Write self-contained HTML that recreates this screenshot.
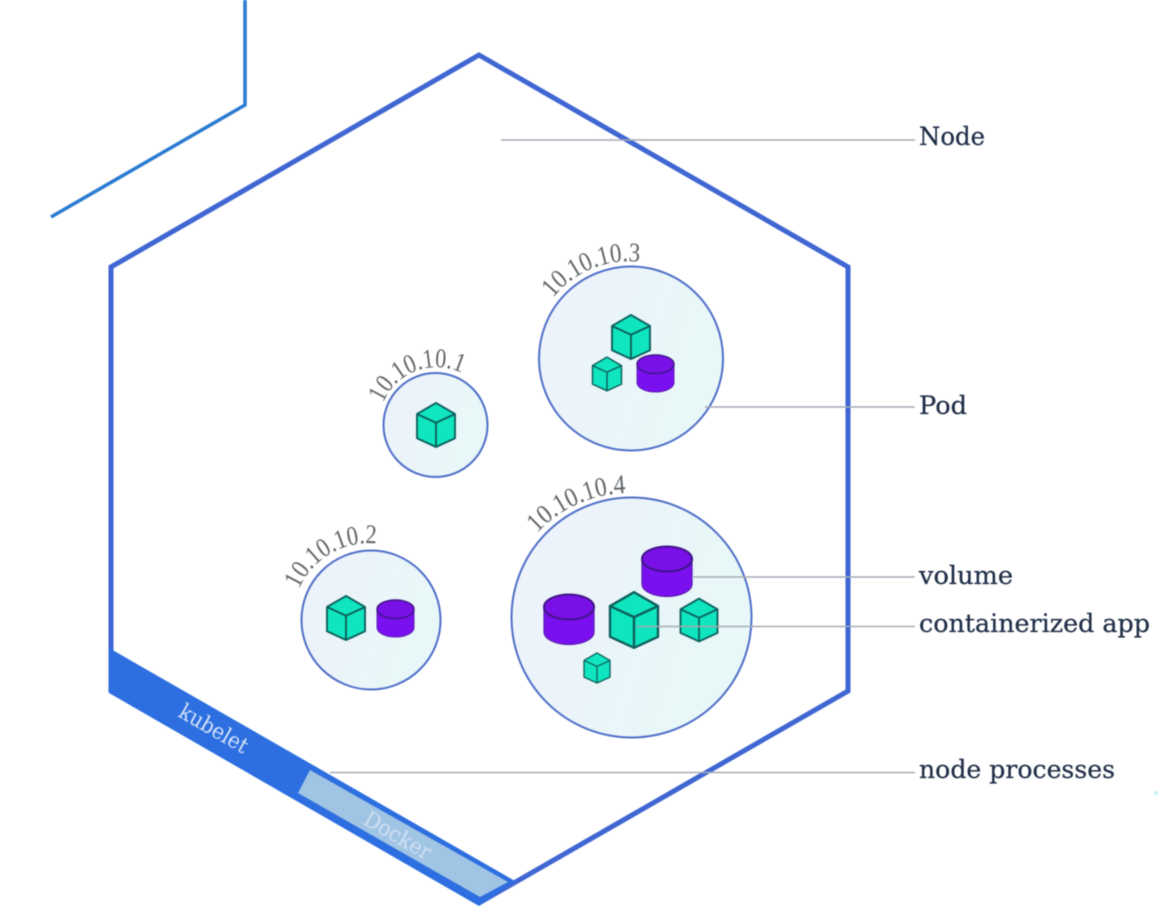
<!DOCTYPE html>
<html>
<head>
<meta charset="utf-8">
<style>
html,body{margin:0;padding:0;background:#fff;width:1169px;height:915px;overflow:hidden}
svg{display:block;filter:blur(0.5px)}
.lbl{font-family:"DejaVu Serif","Liberation Serif",serif;font-size:25px;fill:#1f2d46;stroke:#1f2d46;stroke-width:0.25px}
.ip{font-family:"Liberation Serif",serif;font-size:27px;fill:#5f6468}
</style>
</head>
<body>
<svg width="1169" height="915" viewBox="0 0 1169 915" xmlns="http://www.w3.org/2000/svg">
<defs>
<linearGradient id="pg" x1="0" y1="0" x2="1" y2="0.3">
<stop offset="0" stop-color="#eef2fb"/><stop offset="1" stop-color="#e8f8f8"/>
</linearGradient>
<g id="cube" stroke="#0d5f5c" stroke-width="0.1" stroke-linejoin="round">
<polygon points="0,-1.16 1,-0.58 1,0.7 0,1.16 -1,0.7 -1,-0.58" fill="#0fe6bf"/>
<polyline points="-1,-0.58 0,-0.12 1,-0.58" fill="none"/>
<line x1="0" y1="-0.12" x2="0" y2="1.16"/>
</g>
<g id="cyl">
<path d="M-1,-0.5 V0.5 A1,0.5 0 0 0 1,0.5 V-0.5 Z" fill="#7a10f0" stroke="#5a1fb0" stroke-width="0.05"/>
<ellipse cx="0" cy="-0.5" rx="1" ry="0.5" fill="#7a10e8" stroke="#3f1588" stroke-width="0.08"/>
</g>
<path id="a1" d="M383,403 A58,58 0 0 1 462,373"/>
<path id="a2" d="M299,589 A76,76 0 0 1 380,544"/>
<path id="a3" d="M553,298 A97,97 0 0 1 641,262"/>
<path id="a4" d="M537,533 A126,126 0 0 1 627,493"/>
</defs>

<polyline points="245,0 245,105 51,217" fill="none" stroke="#2a7bd0" stroke-width="3.5"/>
<polygon points="479,55 848,267 848,691 479,903 111,691 111,267" fill="#fff" stroke="#3f66d2" stroke-width="5"/>

<polygon points="109,648 515,881 479,906 109,693" fill="#2d6fe0"/>
<polygon points="310,770 298,793 480,897 508,882" fill="#a0c4e4"/>
<text transform="translate(210,735) rotate(30)" text-anchor="middle" font-family="DejaVu Serif, serif" font-size="22" fill="#d3e3fa" textLength="76" lengthAdjust="spacingAndGlyphs">kubelet</text>
<text transform="translate(394,842) rotate(30)" text-anchor="middle" font-family="DejaVu Serif, serif" font-size="22" fill="#cfe0f2" textLength="74" lengthAdjust="spacingAndGlyphs">Docker</text>

<g fill="url(#pg)" stroke="#4f6fc8" stroke-width="2">
<circle cx="435.5" cy="425" r="52"/>
<circle cx="631" cy="358.5" r="92"/>
<circle cx="631.5" cy="617.5" r="120"/>
<circle cx="371" cy="620" r="69.5"/>
</g>

<text class="ip"><textPath href="#a1" textLength="94" lengthAdjust="spacingAndGlyphs">10.10.10.1</textPath></text>
<text class="ip"><textPath href="#a2" textLength="96" lengthAdjust="spacingAndGlyphs">10.10.10.2</textPath></text>
<text class="ip"><textPath href="#a3" textLength="98" lengthAdjust="spacingAndGlyphs">10.10.10.3</textPath></text>
<text class="ip"><textPath href="#a4" textLength="100" lengthAdjust="spacingAndGlyphs">10.10.10.4</textPath></text>

<use href="#cube" transform="translate(436,425) scale(19)"/>
<use href="#cube" transform="translate(631,337) scale(19)"/>
<use href="#cube" transform="translate(607,374) scale(14.5)"/>
<use href="#cube" transform="translate(346,618) scale(19)"/>
<use href="#cube" transform="translate(634,620) scale(24)"/>
<use href="#cube" transform="translate(699,620) scale(18.5)"/>
<use href="#cube" transform="translate(597,668) scale(13)"/>

<use href="#cyl" transform="translate(655.5,373.5) scale(18.5)"/>
<use href="#cyl" transform="translate(395.5,618.5) scale(18.5)"/>
<use href="#cyl" transform="translate(569,619.5) scale(25)"/>
<use href="#cyl" transform="translate(667,571.5) scale(25)"/>

<g stroke="#a6abb3" stroke-width="1.6">
<line x1="501" y1="140" x2="915" y2="140"/>
<line x1="705" y1="407" x2="915" y2="407"/>
<line x1="692" y1="577" x2="915" y2="577"/>
<line x1="636" y1="626.5" x2="915" y2="626.5"/>
<line x1="330" y1="772.5" x2="915" y2="772.5"/>
</g>

<text class="lbl" x="919" y="145" textLength="66" lengthAdjust="spacingAndGlyphs">Node</text>
<text class="lbl" x="919" y="414" textLength="48" lengthAdjust="spacingAndGlyphs">Pod</text>
<text class="lbl" x="919" y="584" textLength="94" lengthAdjust="spacingAndGlyphs">volume</text>
<text class="lbl" x="919" y="632" textLength="231" lengthAdjust="spacingAndGlyphs">containerized app</text>
<text class="lbl" x="919" y="778" textLength="196" lengthAdjust="spacingAndGlyphs">node processes</text>

<circle cx="1156" cy="793" r="2" fill="#c8eeee"/>
</svg>
</body>
</html>
